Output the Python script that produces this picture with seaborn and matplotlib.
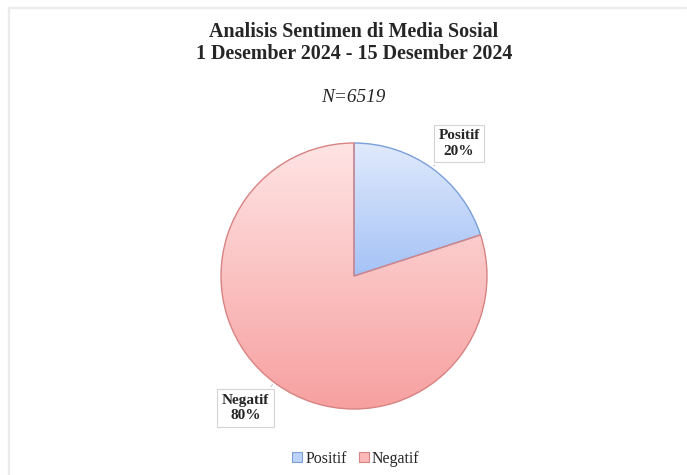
import numpy as np
import matplotlib
matplotlib.use("Agg")
import matplotlib.pyplot as plt
from matplotlib.lines import Line2D
from matplotlib.patches import Patch
from matplotlib.colors import LinearSegmentedColormap
import seaborn as sns

# ---- data ----
categories = ["Positif", "Negatif"]
percent = [20, 80]
total_n = 6519
title_lines = ["Analisis Sentimen di Media Sosial", "1 Desember 2024 - 15 Desember 2024"]

sns.set_theme(style="white")
plt.rcParams["font.family"] = ["Liberation Serif", "DejaVu Serif"]

W, H = 687, 475
fig = plt.figure(figsize=(W / 100, H / 100), dpi=100)
fig.patch.set_facecolor("white")

# light frame (top and left)
fig.add_artist(Line2D([10 / W, 686 / W], [1 - 7.5 / H, 1 - 7.5 / H], color="#ebebeb", lw=1.6))
fig.add_artist(Line2D([8.5 / W, 8.5 / W], [1 - 8 / H, 0], color="#ebebeb", lw=1.6))

cx, cy, r = 354, 276, 133
ra = r * 1.02
ax = fig.add_axes([(cx - ra) / W, 1 - (cy + ra) / H, 2 * ra / W, 2 * ra / H])

tops = ["#e0eafc", "#ffe4e4"]
bottoms = ["#a5c2f6", "#f7a0a0"]
edges = ["#7a9fd9", "#d88383"]

wedges, _ = ax.pie(percent, startangle=90, counterclock=False, radius=1,
                   colors=bottoms, wedgeprops=dict(linewidth=1.0))
for w, t, b, e in zip(wedges, tops, bottoms, edges):
    w.set_edgecolor(e)
    w.set_facecolor("none")
    w.set_zorder(3)
    ext = w.get_path().get_extents()
    cmap = LinearSegmentedColormap.from_list("g", [b, t])
    grad = np.linspace(0, 1, 256).reshape(-1, 1)
    im = ax.imshow(grad, cmap=cmap, origin="lower", aspect="auto",
                   extent=[ext.x0, ext.x1, ext.y0, ext.y1], zorder=2, interpolation="bilinear")
    im.set_clip_path(w)

ax.set_xlim(-1.02, 1.02)
ax.set_ylim(-1.02, 1.02)
ax.set_aspect("equal")
ax.axis("off")

# callout labels
box = dict(boxstyle="square,pad=0.3", fc="white", ec="#d4d4d4", lw=0.8)
ax.annotate(f"{categories[0]}\n{percent[0]}%", xy=(0.586, 0.812), xytext=(0.79, 0.995),
            ha="center", va="center", fontsize=11, fontweight="bold", linespacing=1.25,
            bbox=box, annotation_clip=False, zorder=5,
            arrowprops=dict(arrowstyle="-", color="#c8c8c8", lw=0.8, relpos=(0.08, 0.0)))
ax.annotate(f"{categories[1]}\n{percent[1]}%", xy=(-0.60, -0.80), xytext=(-0.815, -0.992),
            ha="center", va="center", fontsize=11, fontweight="bold", linespacing=1.25,
            bbox=box, annotation_clip=False, zorder=5,
            arrowprops=dict(arrowstyle="-", color="#c8c8c8", lw=0.8, relpos=(0.92, 1.0)))

# titles
fig.text(354 / W, 1 - 32 / H, title_lines[0], ha="center", va="center", fontsize=14.4, fontweight="bold")
fig.text(354 / W, 1 - 54 / H, title_lines[1], ha="center", va="center", fontsize=14.4, fontweight="bold")
fig.text(353 / W, 1 - 97 / H, f"N={total_n}", ha="center", va="center", fontsize=13.9, style="italic")

handles = [Patch(facecolor=c, edgecolor=e, lw=0.8) for c, e in zip(["#bcd2f8", "#fbb8b8"], edges)]
fig.legend(handles, categories, loc="center", bbox_to_anchor=(356 / W, 1 - 459 / H), ncol=2,
           frameon=False, fontsize=11.4, handlelength=0.6, handleheight=0.6,
           handletextpad=0.2, columnspacing=0.8)

fig.savefig("out.png", dpi=100, facecolor="white")
